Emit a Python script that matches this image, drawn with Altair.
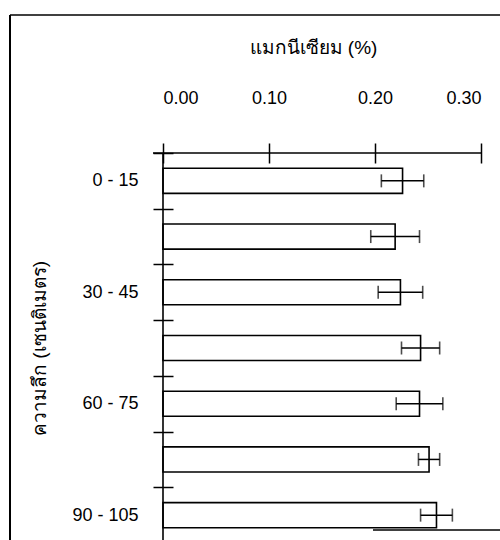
import altair as alt
import pandas as pd

# Soil depth classes (cm) and magnesium content (%) with its spread
depths = ["0 - 15", "15 - 30", "30 - 45", "45 - 60", "60 - 75", "75 - 90", "90 - 105"]
magnesium = [0.226, 0.219, 0.224, 0.243, 0.242, 0.251, 0.258]
spread = [0.020, 0.023, 0.021, 0.018, 0.022, 0.010, 0.015]
x_ticks = [0.0, 0.1, 0.2, 0.3]
labelled_depths = ["0 - 15", "30 - 45", "60 - 75", "90 - 105"]

x_title = "แมกนีเซียม (%)"
y_title = "ความลึก (เซนติเมตร)"

df = pd.DataFrame({"depth": depths, "mg": magnesium, "sd": spread})
df["lo"] = df["mg"] - df["sd"]
df["hi"] = df["mg"] + df["sd"]
one = pd.DataFrame({"k": [0]})

W, H = 318, 390
STEP = H / len(depths)
FONT = "Liberation Sans"
INK = "black"

x_scale = alt.Scale(domain=[0, 0.3], nice=False, zero=True)
y_scale = alt.Scale(domain=depths, paddingInner=0.55, paddingOuter=0.275)

label_list = "[" + ",".join("'" + d + "'" for d in labelled_depths) + "]"

x_axis = alt.Axis(
    orient="top", values=x_ticks, format=".2f", title=x_title,
    offset=-10, tickSize=20, tickWidth=1.5, tickColor=INK,
    domain=False, grid=False,
    labelPadding=36, labelFont=FONT, labelFontSize=18, labelColor=INK,
    titlePadding=32, titleFont=FONT, titleFontSize=19, titleColor=INK,
    titleFontWeight="normal", titleX=150,
)
# ticks sit on the boundaries between depth classes, labels stay centred
y_axis = alt.Axis(
    title=y_title, offset=-10, tickSize=20, tickWidth=1.5, tickColor=INK,
    tickOffset=-STEP / 2, labelOffset=STEP / 2, domain=False, grid=False,
    labelExpr="indexof(" + label_list + ", datum.label) >= 0 ? datum.label : ''",
    labelPadding=15, labelFont=FONT, labelFontSize=18, labelColor=INK,
    titlePadding=22, titleFont=FONT, titleFontSize=19, titleColor=INK,
    titleFontWeight="normal",
)

X = lambda f: alt.X(f, scale=x_scale, axis=x_axis, title=x_title)
Y = alt.Y("depth:N", scale=y_scale, axis=y_axis, sort=depths, title=y_title)

bars = alt.Chart(df).mark_bar(fill="white", stroke=INK, strokeWidth=1.6).encode(
    x=X("mg:Q"), y=Y
)

whisker = alt.Chart(df).mark_rule(color=INK, strokeWidth=1.5).encode(
    x=X("lo:Q"), x2="hi:Q", y=Y
)

caps = (
    alt.Chart(df)
    .transform_fold(["lo", "hi"], as_=["end", "v"])
    .mark_tick(orient="vertical", size=13, thickness=1.6, color=INK)
    .encode(x=X("v:Q"), y=Y)
)

# axis lines drawn separately so the ticks can cross them
y_line = alt.Chart(one).mark_rule(color=INK, strokeWidth=1.6).encode(
    x=alt.XDatum(0, scale=x_scale, axis=x_axis, title=x_title)
)
x_line = alt.Chart(one).mark_rule(color=INK, strokeWidth=1.5).encode(
    x=alt.value(-10), x2=alt.value(W), y=alt.value(0)
)

# outer frame of the figure
frame_left = alt.Chart(one).mark_rule(color=INK, strokeWidth=2).encode(
    x=alt.value(-153), y=alt.value(-138), y2=alt.value(H + 10)
)
frame_top = alt.Chart(one).mark_rule(color=INK, strokeWidth=1.5).encode(
    x=alt.value(-153), x2=alt.value(W + 19), y=alt.value(-138)
)
frame_bottom = alt.Chart(one).mark_rule(color=INK, strokeWidth=1.5).encode(
    x=alt.value(210), x2=alt.value(W + 19), y=alt.value(377)
)

chart = (
    alt.layer(bars, whisker, caps, y_line, x_line, frame_left, frame_top, frame_bottom)
    .properties(
        width=W, height=H,
        autosize=alt.AutoSizeParams(type="none"),
        padding={"left": 163, "top": 153, "right": 19, "bottom": 0},
        background="white",
    )
    .configure_view(stroke=None)
)

chart.save("out.html", embed_options={"renderer": "svg", "actions": False})
